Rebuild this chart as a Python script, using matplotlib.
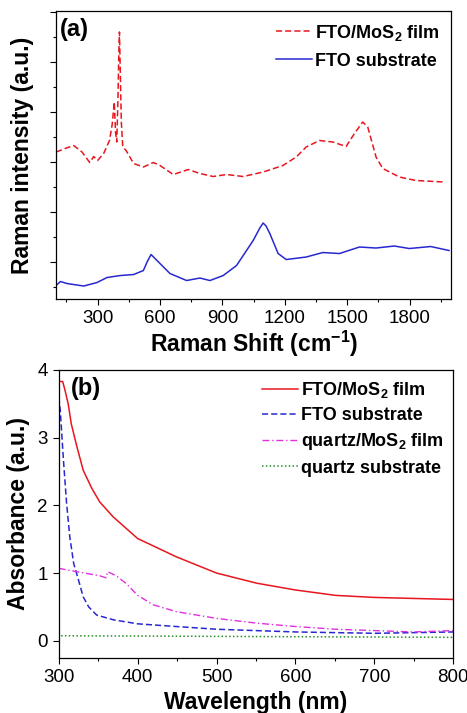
import matplotlib.pyplot as plt
from matplotlib.ticker import MultipleLocator

plt.rcParams["font.family"] = ["Liberation Sans", "DejaVu Sans"]
plt.rcParams["mathtext.fontset"] = "custom"
plt.rcParams["mathtext.bf"] = "Liberation Sans:bold"
plt.rcParams["mathtext.rm"] = "Liberation Sans:bold"
plt.rcParams["mathtext.default"] = "bf"

# (a) Raman spectra (arbitrary units)
raman_film_x = [100, 150, 185, 225, 262, 281, 300, 329, 357, 370, 380, 386, 392,
                398, 402, 405, 409, 414, 421, 437, 473, 520, 568, 600, 664, 736,
                792, 856, 920, 1000, 1096, 1191, 1255, 1303, 1367, 1431, 1495,
                1535, 1575, 1599, 1639, 1671, 1751, 1831, 1966]
raman_film_y = [2.20, 2.28, 2.33, 2.20, 1.99, 2.11, 2.03, 2.17, 2.43, 2.75, 3.20,
                2.60, 2.40, 3.30, 4.20, 4.60, 3.80, 2.80, 2.30, 2.23, 1.97, 1.90,
                1.99, 1.93, 1.75, 1.85, 1.77, 1.71, 1.75, 1.71, 1.80, 1.93, 2.10,
                2.30, 2.43, 2.40, 2.31, 2.57, 2.80, 2.70, 2.10, 1.87, 1.70, 1.63,
                1.60]
raman_fto_x = [100, 121, 153, 233, 297, 345, 409, 473, 520, 540, 557, 600, 648,
               728, 792, 840, 904, 968, 1016, 1048, 1080, 1096, 1110, 1128, 1168,
               1207, 1303, 1383, 1463, 1559, 1639, 1727, 1799, 1902, 1990]
raman_fto_y = [-0.47, -0.39, -0.43, -0.48, -0.41, -0.31, -0.27, -0.25, -0.17,
               0.02, 0.15, -0.03, -0.23, -0.37, -0.32, -0.37, -0.27, -0.07, 0.23,
               0.43, 0.68, 0.78, 0.72, 0.57, 0.17, 0.05, 0.10, 0.19, 0.17, 0.30,
               0.28, 0.32, 0.27, 0.31, 0.23]

# (b) absorbance spectra
wl_film = [300, 305, 308, 312, 316, 323, 331, 342, 352, 369, 400, 449, 500, 551,
           600, 651, 700, 749, 800]
abs_fto_film = [3.83, 3.83, 3.70, 3.50, 3.20, 2.87, 2.52, 2.25, 2.05, 1.83, 1.51,
                1.24, 1.00, 0.85, 0.75, 0.67, 0.64, 0.625, 0.61]
wl_fto = [300, 302, 306, 310, 314, 319, 325, 331, 338, 348, 369, 400, 449, 500,
          600, 700, 800]
abs_fto = [3.60, 3.40, 2.67, 2.03, 1.54, 1.14, 0.90, 0.65, 0.50, 0.38, 0.31, 0.25,
           0.21, 0.17, 0.13, 0.11, 0.13]
wl_quartz_film = [300, 323, 352, 360, 362, 373, 386, 400, 420, 449, 500, 551, 600,
                  651, 700, 749, 800]
abs_quartz_film = [1.07, 1.02, 0.96, 0.93, 1.02, 0.96, 0.84, 0.67, 0.53, 0.43,
                   0.33, 0.26, 0.21, 0.17, 0.15, 0.13, 0.15]
wl_quartz = [303, 800]
abs_quartz = [0.074, 0.05]

RED = "#e8161e"
BLUE = "#2828d0"
MAGENTA = "#e030e0"
GREEN = "#289028"

LABEL_SIZE = 16.5
TICK_SIZE = 13.5
LEGEND_SIZE = 13
PANEL_SIZE = 17

fig = plt.figure(figsize=(4.67, 7.13), dpi=100)
ax1 = fig.add_axes([0.120, 0.5806, 0.846, 0.404])
ax2 = fig.add_axes([0.1257, 0.0776, 0.845, 0.4035])

ax1.plot(raman_film_x, raman_film_y, color=RED, lw=1.1, ls=(0, (4, 2)),
         label=r"FTO/MoS$_2$ film")
ax1.plot(raman_fto_x, raman_fto_y, color=BLUE, lw=1.1, label="FTO substrate")
ax1.set_xlim(100, 2000)
ax1.set_ylim(-0.74, 5.02)
ax1.xaxis.set_major_locator(MultipleLocator(300))
ax1.xaxis.set_minor_locator(MultipleLocator(150))
ax1.yaxis.set_major_locator(MultipleLocator(1))
ax1.yaxis.set_minor_locator(MultipleLocator(0.5))
ax1.set_yticklabels([])
ax1.set_xlabel(r"Raman Shift (cm$^{-1}$)", fontsize=LABEL_SIZE, fontweight="bold",
               labelpad=1)
ax1.set_ylabel("Raman intensity (a.u.)", fontsize=LABEL_SIZE, fontweight="bold",
               labelpad=8)
ax1.text(0.01, 0.975, "(a)", transform=ax1.transAxes, fontsize=PANEL_SIZE,
         fontweight="bold", va="top")
ax1.legend(loc="upper right", frameon=False,
           prop={"weight": "bold", "size": LEGEND_SIZE},
           handlelength=2.0, handletextpad=0.15, labelspacing=0.55,
           borderaxespad=0.25)

ax2.plot(wl_film, abs_fto_film, color=RED, lw=1.1, label=r"FTO/MoS$_2$ film")
ax2.plot(wl_fto, abs_fto, color=BLUE, lw=1.1, ls=(0, (4, 2)), label="FTO substrate")
ax2.plot(wl_quartz_film, abs_quartz_film, color=MAGENTA, lw=1.0,
         ls=(0, (5, 2, 1, 2)), label=r"quartz/MoS$_2$ film")
ax2.plot(wl_quartz, abs_quartz, color=GREEN, lw=1.1, ls=(0, (1, 1.5)),
         label="quartz substrate")
ax2.set_xlim(300, 800)
ax2.set_ylim(-0.25, 4)
ax2.xaxis.set_major_locator(MultipleLocator(100))
ax2.xaxis.set_minor_locator(MultipleLocator(50))
ax2.yaxis.set_major_locator(MultipleLocator(1))
ax2.set_xlabel("Wavelength (nm)", fontsize=LABEL_SIZE, fontweight="bold", labelpad=4)
ax2.set_ylabel("Absorbance (a.u.)", fontsize=LABEL_SIZE, fontweight="bold",
               labelpad=5)
ax2.text(0.03, 0.975, "(b)", transform=ax2.transAxes, fontsize=PANEL_SIZE,
         fontweight="bold", va="top")
ax2.legend(loc="upper right", frameon=False,
           prop={"weight": "bold", "size": LEGEND_SIZE},
           handlelength=2.0, handletextpad=0.15, labelspacing=0.4,
           borderaxespad=0.15)

for ax in (ax1, ax2):
    ax.tick_params(labelsize=TICK_SIZE, length=4, width=0.8, pad=4)
    ax.tick_params(which="minor", length=2.5, width=0.8)
    for s in ax.spines.values():
        s.set_linewidth(0.9)

fig.savefig("out.png", dpi=100)
